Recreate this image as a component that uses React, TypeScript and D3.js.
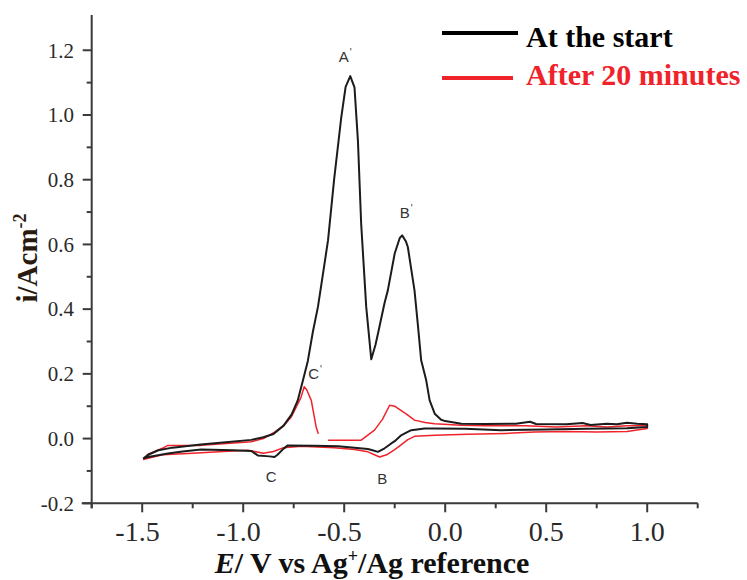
import React from "react";
import * as d3 from "d3";

// ---- Data (E in V, i in A/cm^2), scan order: forward -1.5 -> 1.0, then reverse ----
const startE = [
  -1.495, -1.47, -1.42, -1.35, -1.21, -1.1, -0.96, -0.9, -0.85, -0.8, -0.76, -0.73, -0.7, -0.68, -0.655, -0.63,
  -0.6, -0.58, -0.55, -0.515, -0.493, -0.47, -0.449, -0.432, -0.416, -0.391, -0.366, -0.345, -0.333, -0.3,
  -0.284, -0.25, -0.225, -0.213, -0.195, -0.185, -0.152, -0.135, -0.119, -0.094, -0.077, -0.052, -0.02, 0.0,
  0.08, 0.2, 0.35, 0.42, 0.45, 0.6, 0.68, 0.72, 0.8, 0.85, 0.9, 0.95, 1.0,
  1.0, 0.9, 0.7, 0.5, 0.277, 0.1, -0.052, -0.102, -0.168, -0.2, -0.218, -0.25, -0.267, -0.3, -0.333, -0.36,
  -0.383, -0.449, -0.53, -0.65, -0.779, -0.8, -0.83, -0.845, -0.87, -0.928, -0.96, -1.05, -1.208, -1.3,
  -1.373, -1.47, -1.495,
];
const startI = [
  -0.062, -0.05, -0.036, -0.028, -0.018, -0.012, -0.004, 0.004, 0.014, 0.04, 0.075, 0.118, 0.19, 0.24, 0.33, 0.407,
  0.53, 0.613, 0.8, 0.99, 1.087, 1.12, 1.085, 0.92, 0.664, 0.407, 0.245, 0.29, 0.324, 0.42,
  0.458, 0.572, 0.62, 0.628, 0.61, 0.592, 0.458, 0.35, 0.242, 0.18, 0.118, 0.077, 0.058, 0.054,
  0.046, 0.045, 0.046, 0.052, 0.045, 0.044, 0.048, 0.042, 0.046, 0.044, 0.049, 0.046, 0.044,
  0.036, 0.032, 0.03, 0.028, 0.026, 0.03, 0.031, 0.031, 0.026, 0.016, 0.01, -0.008, -0.015, -0.03, -0.041, -0.036,
  -0.032, -0.028, -0.024, -0.022, -0.021, -0.031, -0.05, -0.057, -0.055, -0.052, -0.038, -0.036, -0.034, -0.04,
  -0.046, -0.057, -0.062,
];
const afterE = [
  -1.495, -1.47, -1.4, -1.373, -1.208, -1.1, -0.96, -0.9, -0.845, -0.8, -0.762, -0.735, -0.713, -0.698, -0.685,
  -0.663, -0.639, -0.628, NaN, -0.58, -0.5, -0.416, -0.35, -0.31, -0.275, -0.25, -0.234, -0.19, -0.152, -0.1,
  -0.052, 0.079, 0.2, 0.4, 0.55, 0.7, 0.8, 0.9, 1.0,
  1.0, 0.9, 0.75, 0.6, 0.442, 0.3, 0.112, -0.05, -0.152, -0.185, -0.22, -0.25, -0.29, -0.325, -0.35, -0.383,
  -0.449, -0.55, -0.713, -0.8, -0.85, -0.9, -0.977, -1.1, -1.25, -1.4, -1.495,
];
const afterI = [
  -0.065, -0.048, -0.03, -0.021, -0.021, -0.016, -0.01, 0.0, 0.02, 0.04, 0.067, 0.1, 0.129, 0.16, 0.15,
  0.118, 0.036, 0.015, NaN, -0.005, -0.005, -0.005, 0.026, 0.06, 0.103, 0.1, 0.093, 0.075, 0.057, 0.05,
  0.046, 0.041, 0.04, 0.04, 0.036, 0.04, 0.036, 0.04, 0.04,
  0.031, 0.022, 0.02, 0.022, 0.02, 0.016, 0.013, 0.01, 0.007, -0.003, -0.02, -0.034, -0.05, -0.057, -0.05, -0.041,
  -0.034, -0.028, -0.024, -0.028, -0.04, -0.045, -0.036, -0.04, -0.045, -0.05, -0.065,
];

const xTicks = [-1.5, -1.0, -0.5, 0.0, 0.5, 1.0];
const xMinor = [-1.75, -1.25, -0.75, -0.25, 0.25, 0.75, 1.25];
const yTicks = [-0.2, 0.0, 0.2, 0.4, 0.6, 0.8, 1.0, 1.2];
const yMinor = [-0.1, 0.1, 0.3, 0.5, 0.7, 0.9, 1.1];

const peakNames = ["A", "B", "C", "C", "B"];
const peakPrime = [true, true, true, false, false];
const peakE = [-0.495, -0.193, -0.644, -0.861, -0.312];
const peakI = [1.179, 0.697, 0.2, -0.119, -0.125];

const seriesNames = ["At the start", "After 20 minutes"];

const W = 747;
const H = 580;
const BLACK = "#1c1c1c";
const RED = "#f0222a";
const SERIF = "'Liberation Serif', 'Times New Roman', serif";
const SANS = "'Liberation Sans', Arial, sans-serif";

export default function App() {
  const x = d3.scaleLinear().domain([-1.75, 1.25]).range([91.7, 697.7]);
  const y = d3.scaleLinear().domain([-0.2, 1.3]).range([503.3, 17.9]);

  const line = d3
    .line<[number, number]>()
    .defined((d) => !isNaN(d[0]) && !isNaN(d[1]))
    .x((d) => x(d[0]))
    .y((d) => y(d[1]));

  const startPts = startE.map((e, k) => [e, startI[k]] as [number, number]);
  const afterPts = afterE.map((e, k) => [e, afterI[k]] as [number, number]);

  const axisColor = "#3a3a3a";
  const x0 = x.range()[0];
  const yBase = y.range()[0];
  const xLabelFont = 28;

  return (
    <svg
      width={W}
      height={H}
      style={{ position: "absolute", left: 0, top: 0, background: "#fff" }}
    >
      <rect x={0} y={0} width={W} height={H} fill="#fff" />
      {/* curves */}
      <path d={line(afterPts) || ""} fill="none" stroke={RED} strokeWidth={1.5} strokeLinejoin="round" />
      <path d={line(startPts) || ""} fill="none" stroke={BLACK} strokeWidth={2} strokeLinejoin="round" />

      {/* axes */}
      <line x1={x0 - 10} x2={x.range()[1]} y1={yBase} y2={yBase} stroke={axisColor} strokeWidth={2} />
      <line x1={x0} x2={x0} y1={15} y2={yBase + 5} stroke={axisColor} strokeWidth={2} />
      {xTicks.map((t) => (
        <line key={"xt" + t} x1={x(t)} x2={x(t)} y1={yBase} y2={yBase + 9} stroke={axisColor} strokeWidth={2} />
      ))}
      {xMinor.map((t) => (
        <line key={"xm" + t} x1={x(t)} x2={x(t)} y1={yBase} y2={yBase + 5} stroke={axisColor} strokeWidth={2} />
      ))}
      {yTicks.map((t) => (
        <line key={"yt" + t} x1={x0 - 9} x2={x0} y1={y(t)} y2={y(t)} stroke={axisColor} strokeWidth={2} />
      ))}
      {yMinor.map((t) => (
        <line key={"ym" + t} x1={x0 - 5} x2={x0} y1={y(t)} y2={y(t)} stroke={axisColor} strokeWidth={2} />
      ))}
      {xTicks.map((t) => (
        <text
          key={"xl" + t}
          x={x(t) + 0.625 * xLabelFont}
          y={541}
          textAnchor="end"
          fontFamily={SERIF}
          fontSize={xLabelFont}
          fill="#2a2a2a"
        >
          {d3.format(".1f")(t).replace("−", "-")}
        </text>
      ))}
      {yTicks.map((t) => (
        <text
          key={"yl" + t}
          x={74}
          y={y(t)}
          dy="0.35em"
          textAnchor="end"
          fontFamily={SERIF}
          fontSize={21}
          fill="#2a2a2a"
        >
          {d3.format(".1f")(t).replace("−", "-")}
        </text>
      ))}

      {/* axis titles */}
      <text x={372} y={573} textAnchor="middle" fontFamily={SERIF} fontWeight="bold" fontSize={30} fill="#111">
        <tspan fontStyle="italic">E</tspan>
        <tspan>/ V vs Ag</tspan>
        <tspan fontSize={18} dy={-11}>+</tspan>
        <tspan dy={11}>/Ag reference</tspan>
      </text>
      <text
        transform="translate(37,258) rotate(-90)"
        textAnchor="middle"
        fontFamily={SERIF}
        fontWeight="bold"
        fontSize={29}
        fill="#2a1a10"
      >
        <tspan>i/Acm</tspan>
        <tspan fontSize={18} dy={-11}>-2</tspan>
      </text>

      {/* peak labels */}
      {peakNames.map((n, k) => (
        <text
          key={"pk" + k}
          x={x(peakE[k])}
          y={y(peakI[k])}
          dy="0.36em"
          textAnchor="middle"
          fontFamily={SANS}
          fontSize={15}
          fill="#333"
        >
          {n}
          {peakPrime[k] ? (
            <tspan fontSize={10} dy={-6} dx={1}>
              '
            </tspan>
          ) : null}
        </text>
      ))}

      {/* legend */}
      <line x1={442} x2={518} y1={33} y2={33} stroke="#000" strokeWidth={4} />
      <text x={526} y={47} fontFamily={SERIF} fontWeight="bold" fontSize={30} fill="#000">
        {seriesNames[0]}
      </text>
      <line x1={442} x2={513} y1={78} y2={78} stroke={RED} strokeWidth={4} />
      <text x={526} y={85} fontFamily={SERIF} fontWeight="bold" fontSize={30} fill={RED}>
        {seriesNames[1]}
      </text>
    </svg>
  );
}
